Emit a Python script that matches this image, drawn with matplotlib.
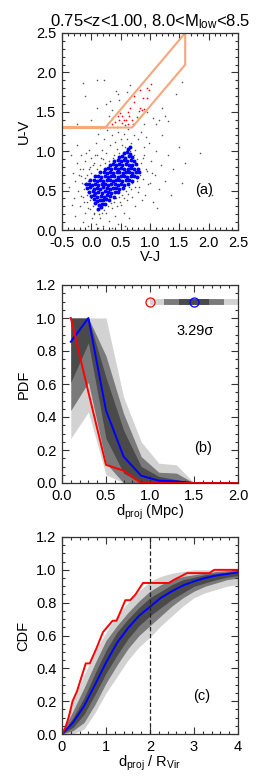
import matplotlib
matplotlib.use("Agg")
import matplotlib.pyplot as plt
from matplotlib.ticker import MultipleLocator, FormatStrFormatter

plt.rcParams['font.family'] = ['Liberation Sans', 'DejaVu Sans']
plt.rcParams['mathtext.fontset'] = 'custom'
plt.rcParams['mathtext.rm'] = 'Liberation Sans'
plt.rcParams['mathtext.it'] = 'Liberation Sans'

# ---------------- Panel (a) data: UVJ diagram ----------------
title_text = "0.75<z<1.00, 8.0<M$_{\\mathregular{low}}$<8.5"

black_pts = [
    (-0.38,0.55),(-0.35,0.95),(-0.33,0.32),(-0.32,0.72),(-0.30,0.40),(-0.28,0.18),(-0.27,0.62),(-0.25,0.85),
    (-0.24,1.08),(-0.22,0.50),(-0.21,0.70),(-0.20,0.30),(-0.20,0.78),(-0.18,0.68),(-0.18,0.43),(-0.17,0.95),
    (-0.16,0.60),(-0.15,0.42),(-0.15,0.10),(-0.14,0.78),(-0.13,0.52),(-0.12,0.58),(-0.12,0.35),(-0.11,0.22),
    (-0.10,0.88),(-0.10,0.66),(-0.09,0.98),(-0.08,0.35),(-0.08,0.45),(-0.07,0.70),(-0.06,0.62),(-0.06,0.28),
    (-0.05,0.48),(-0.05,0.05),(-0.04,1.02),(-0.04,0.78),(-0.03,0.80),(-0.03,0.38),(-0.02,0.27),(-0.01,0.40),
    (0.00,0.92),(0.00,0.72),(0.01,0.15),(0.02,0.30),(0.02,0.82),(0.04,0.22),(0.05,0.85),(0.05,0.20),
    (0.06,0.95),(0.08,0.08),(0.08,1.10),(0.09,0.26),(0.10,0.95),(0.10,0.78),(0.12,1.22),(0.12,0.02),
    (0.13,0.20),(0.15,0.82),(0.15,0.15),(0.17,0.92),(0.18,1.02),(0.18,0.22),(0.20,0.90),(0.20,0.05),
    (0.22,1.15),(0.22,0.26),(0.24,0.85),(0.25,0.98),(0.25,0.22),(0.27,1.27),(0.28,0.30),(0.30,0.88),
    (0.30,0.12),(0.32,1.08),(0.33,0.34),(0.35,1.20),(0.35,0.28),(0.35,0.02),(0.37,0.92),(0.38,0.95),
    (0.39,0.36),(0.40,1.12),(0.40,0.18),(0.42,0.40),(0.43,1.03),(0.44,0.30),(0.45,1.25),(0.45,0.08),
    (0.47,0.42),(0.48,0.98),(0.49,0.36),(0.50,1.15),(0.50,0.32),(0.52,0.45),(0.53,1.08),(0.55,1.22),
    (0.55,0.22),(0.56,0.40),(0.58,1.05),(0.58,0.05),(0.59,0.50),(0.60,1.15),(0.60,0.38),(0.62,0.46),
    (0.63,1.28),(0.64,0.55),(0.65,0.15),(0.66,1.00),(0.67,0.52),(0.68,1.10),(0.70,0.42),(0.70,0.60),
    (0.72,1.20),(0.72,0.95),(0.74,0.55),(0.75,1.02),(0.75,0.30),(0.77,0.62),(0.78,0.90),(0.80,1.15),
    (0.80,0.48),(0.82,0.55),(0.83,0.70),(0.85,0.85),(0.85,1.25),(0.87,0.38),(0.88,0.65),(0.88,0.92),
    (0.90,0.95),(0.90,1.05),(0.92,0.45),(0.93,0.78),(0.94,1.18),(0.95,0.75),(0.97,0.58),(0.98,1.10),
    (1.00,0.60),(1.02,0.88),(1.03,0.72),(1.05,0.35),(1.08,0.70),(1.10,1.00),(1.12,0.28),(1.15,0.52),
    (1.18,0.82),(1.20,1.20),(1.25,0.62),(1.30,0.95),(1.35,0.45),(1.40,0.78),(1.50,1.05),(1.55,0.60),
    (1.60,0.85),(1.85,0.98),(2.05,0.45),
    (-0.25,1.35),(-0.15,1.87),(-0.10,1.70),(0.00,1.40),(0.10,1.55),(0.10,1.90),(0.15,1.30),(0.22,1.90),
    (0.25,1.60),(0.30,1.45),(0.32,1.64),(0.35,1.52),(0.42,1.76),(0.45,1.72),(0.48,1.65),(0.60,1.75),
    (0.66,1.84),(0.90,1.35),(0.95,1.50),(1.05,1.42),(1.10,1.35),(1.15,1.40),(1.25,1.45),(1.30,1.38),
    (1.20,1.55),(1.45,1.72),(1.54,1.88),
]

blue_pts = [
    (0.12,0.27),(0.17,0.29),
    (0.07,0.34),(0.13,0.32),(0.19,0.335),(0.24,0.33),
    (0.04,0.39),(0.09,0.37),(0.14,0.385),(0.20,0.375),(0.25,0.39),(0.30,0.38),
    (0.00,0.43),(0.05,0.44),(0.10,0.42),(0.16,0.435),(0.21,0.425),(0.27,0.44),(0.32,0.43),(0.38,0.42),
    (-0.04,0.48),(0.02,0.49),(0.07,0.47),(0.12,0.485),(0.18,0.475),(0.23,0.49),(0.29,0.48),(0.34,0.47),
    (0.40,0.485),(0.46,0.48),
    (-0.07,0.53),(-0.02,0.54),(0.04,0.52),(0.09,0.535),(0.15,0.525),(0.20,0.54),(0.26,0.53),(0.31,0.52),
    (0.37,0.535),(0.42,0.53),(0.48,0.52),(0.54,0.535),
    (-0.09,0.58),(-0.04,0.59),(0.01,0.57),(0.07,0.585),(0.12,0.575),(0.18,0.59),(0.23,0.58),(0.29,0.57),
    (0.34,0.585),(0.40,0.58),(0.45,0.57),(0.51,0.59),(0.56,0.575),(0.62,0.58),
    (-0.02,0.63),(0.04,0.64),(0.09,0.62),(0.15,0.635),(0.20,0.625),(0.26,0.64),(0.31,0.63),(0.37,0.62),
    (0.42,0.635),(0.48,0.63),(0.53,0.62),(0.59,0.64),(0.64,0.63),(0.70,0.625),
    (0.06,0.68),(0.12,0.69),(0.17,0.67),(0.23,0.685),(0.28,0.675),(0.34,0.69),(0.39,0.68),(0.45,0.67),
    (0.50,0.685),(0.56,0.68),(0.61,0.67),(0.67,0.69),(0.72,0.68),(0.78,0.675),
    (0.15,0.73),(0.21,0.74),(0.26,0.72),(0.32,0.735),(0.37,0.725),(0.43,0.74),(0.48,0.73),(0.54,0.72),
    (0.59,0.735),(0.65,0.73),(0.70,0.72),(0.76,0.74),(0.82,0.73),
    (0.23,0.78),(0.29,0.79),(0.34,0.77),(0.40,0.785),(0.45,0.775),(0.51,0.79),(0.56,0.78),(0.62,0.77),
    (0.67,0.785),(0.73,0.78),(0.79,0.775),
    (0.31,0.83),(0.37,0.84),(0.42,0.82),(0.48,0.835),(0.53,0.825),(0.59,0.84),(0.64,0.83),(0.70,0.82),
    (0.76,0.835),
    (0.39,0.88),(0.45,0.89),(0.50,0.87),(0.56,0.885),(0.61,0.875),(0.67,0.89),(0.73,0.88),
    (0.47,0.93),(0.53,0.94),(0.58,0.92),(0.64,0.935),(0.70,0.925),
    (0.55,0.98),(0.61,0.99),(0.66,0.97),
    (0.62,1.03),(0.66,1.05),
]

red_pts = [
    (1.02,1.85),(0.95,1.80),(0.98,1.78),(0.83,1.78),(0.73,1.70),(0.73,1.63),(0.95,1.68),(0.82,1.51),
    (0.86,1.52),(0.90,1.53),(0.63,1.50),(0.65,1.45),(0.46,1.45),(0.52,1.45),(0.48,1.40),(0.59,1.40),
    (0.69,1.40),(0.77,1.43),(0.40,1.37),(0.57,1.33),(0.62,1.35),(0.71,1.34),(0.44,1.31),(0.52,1.36),
    (0.83,1.55),(0.49,1.48),(0.55,1.39),(0.36,1.34),(0.66,1.55),(0.88,1.68),
]

# selection strip (U-V = 0.88 (V-J) + offset)
box_vj = [-0.5, 0.239, 1.6, 1.6, 0.693, -0.5]
box_uv = [1.3, 1.3, 2.5, 2.098, 1.3, 1.3]

# ---------------- Panel (b) data: PDF ----------------
pdf_x = [0.1, 0.3, 0.5, 0.7, 0.9, 1.1, 1.3, 1.5, 1.7, 1.9, 2.1]
pdf_light_hi = [1.00, 1.00, 1.00, 0.52, 0.25, 0.12, 0.11, 0.0, 0.0, 0.0, 0.0]
pdf_light_lo = [0.27, 0.43, 0.05, 0.0, 0.0, 0.0, 0.0, 0.0, 0.0, 0.0, 0.0]
pdf_med_hi = [1.00, 1.00, 0.77, 0.42, 0.16, 0.065, 0.06, 0.0, 0.0, 0.0, 0.0]
pdf_med_lo = [0.44, 0.61, 0.12, 0.0, 0.0, 0.0, 0.0, 0.0, 0.0, 0.0, 0.0]
pdf_dark_hi = [1.00, 1.00, 0.64, 0.32, 0.10, 0.04, 0.02, 0.0, 0.0, 0.0, 0.0]
pdf_dark_lo = [0.61, 0.85, 0.27, 0.06, 0.0, 0.0, 0.0, 0.0, 0.0, 0.0, 0.0]
pdf_blue = [0.856, 1.00, 0.44, 0.16, 0.044, 0.014, 0.01, 0.0, 0.0, 0.0, 0.0]
pdf_red = [1.00, 0.55, 0.11, 0.075, 0.0, 0.0, 0.0, 0.0, 0.0, 0.0, 0.0]

# mean-distance bar at top of panel (b)
bar_y = 1.1
bar_light = (1.0, 2.0)
bar_med = (1.16, 1.84)
bar_dark = (1.33, 1.67)
obs_mean = 1.0
sim_mean = 1.5
signif_text = "3.29\u03c3"

# ---------------- Panel (c) data: CDF ----------------
cdf_x = [0, 0.25, 0.5, 0.75, 1.0, 1.25, 1.5, 1.75, 2.0, 2.25, 2.5, 2.75, 3.0, 3.25, 3.5, 3.75, 4.0]
cdf_blue = [0, 0.07, 0.17, 0.30, 0.435, 0.555, 0.645, 0.72, 0.775, 0.83, 0.87, 0.905, 0.93, 0.95, 0.965, 0.975, 0.985]
cdf_light_hi = [0.02, 0.20, 0.36, 0.50, 0.62, 0.72, 0.80, 0.87, 0.93, 0.96, 0.98, 0.99, 1.0, 1.0, 1.0, 1.0, 1.0]
cdf_light_lo = [0, 0.0, 0.03, 0.13, 0.25, 0.35, 0.45, 0.53, 0.59, 0.66, 0.72, 0.78, 0.83, 0.86, 0.88, 0.90, 0.91]
cdf_med_hi = [0.01, 0.14, 0.28, 0.43, 0.57, 0.66, 0.74, 0.81, 0.87, 0.91, 0.94, 0.96, 0.97, 0.98, 0.99, 0.995, 1.0]
cdf_med_lo = [0, 0.02, 0.07, 0.18, 0.31, 0.42, 0.52, 0.60, 0.66, 0.72, 0.78, 0.83, 0.87, 0.90, 0.92, 0.94, 0.95]
cdf_dark_hi = [0, 0.10, 0.22, 0.37, 0.51, 0.62, 0.70, 0.77, 0.83, 0.87, 0.91, 0.94, 0.955, 0.97, 0.98, 0.985, 0.99]
cdf_dark_lo = [0, 0.04, 0.12, 0.24, 0.37, 0.48, 0.58, 0.66, 0.72, 0.77, 0.82, 0.86, 0.90, 0.92, 0.94, 0.955, 0.965]

cdf_red_x = [0.0, 0.08, 0.15, 0.24, 0.34, 0.54, 0.63, 0.78, 0.93, 1.15, 1.24, 1.44, 1.55, 1.67, 1.84,
             2.43, 2.55, 2.70, 2.84, 3.35, 3.46, 4.0]
cdf_red_y = [0.0, 0.04, 0.10, 0.20, 0.26, 0.43, 0.43, 0.52, 0.62, 0.69, 0.69, 0.815, 0.815, 0.85, 0.92,
             0.92, 0.94, 0.96, 0.98, 0.98, 1.0, 1.0]
rvir_line = 2.0

# ---------------- styling ----------------
C_LIGHT = '#d2d2d2'
C_MED = '#7a7a7a'
C_DARK = '#4a4a4a'
C_BOX = '#f8a67c'
FS = 10.5

fig = plt.figure(figsize=(2.6, 7.8), dpi=100)
W, H = 260.0, 780.0
ax1 = fig.add_axes([62/W, 1-230/H, 176/W, 197/H])
ax2 = fig.add_axes([62/W, 1-483/H, 176/W, 198/H])
ax3 = fig.add_axes([62/W, 1-734/H, 176/W, 197/H])


def style(ax):
    ax.tick_params(which='both', direction='in', top=True, right=True, labelsize=FS, pad=4,
                   color='#333333', width=0.8)
    ax.tick_params(which='major', length=5)
    ax.tick_params(which='minor', length=2.5)
    for s in ax.spines.values():
        s.set_linewidth(0.9)
        s.set_color('#333333')


# Panel (a)
ax1.scatter([p[0] for p in black_pts], [p[1] for p in black_pts], s=1.3, c='#555555', linewidths=0)
ax1.scatter([p[0] for p in blue_pts], [p[1] for p in blue_pts], s=8, c='#0000ff', linewidths=0)
ax1.scatter([p[0] for p in red_pts], [p[1] for p in red_pts], s=1.5, c='#ff0000', linewidths=0)
ax1.plot(box_vj, box_uv, color=C_BOX, lw=1.5, clip_on=True)
ax1.set_xlim(-0.5, 2.5)
ax1.set_ylim(0.0, 2.5)
ax1.xaxis.set_major_locator(MultipleLocator(0.5))
ax1.xaxis.set_minor_locator(MultipleLocator(0.1))
ax1.yaxis.set_major_locator(MultipleLocator(0.5))
ax1.yaxis.set_minor_locator(MultipleLocator(0.1))
ax1.xaxis.set_major_formatter(FormatStrFormatter('%.1f'))
ax1.yaxis.set_major_formatter(FormatStrFormatter('%.1f'))
ax1.set_xlabel('V-J', fontsize=FS, labelpad=0)
ax1.set_ylabel('U-V', fontsize=FS, labelpad=4)
ax1.set_title(title_text, fontsize=12, pad=5)
ax1.text(1.92, 0.51, '(a)', fontsize=FS, ha='center', va='center')
style(ax1)

# Panel (b)
ax2.fill_between(pdf_x, pdf_light_lo, pdf_light_hi, color=C_LIGHT, lw=0)
ax2.fill_between(pdf_x, pdf_med_lo, pdf_med_hi, color=C_MED, lw=0)
ax2.fill_between(pdf_x, pdf_dark_lo, pdf_dark_hi, color=C_DARK, lw=0)
ax2.plot(pdf_x, pdf_blue, color='#0000ff', lw=1.4)
ax2.plot(pdf_x, pdf_red, color='#ff0000', lw=1.4)
ax2.plot(bar_light, [bar_y, bar_y], color=C_LIGHT, lw=4.2, solid_capstyle='butt')
ax2.plot(bar_med, [bar_y, bar_y], color=C_MED, lw=4.2, solid_capstyle='butt')
ax2.plot(bar_dark, [bar_y, bar_y], color=C_DARK, lw=4.2, solid_capstyle='butt')
ax2.plot([obs_mean], [bar_y], 'o', mfc='none', mec='#ff0000', ms=6.5, mew=0.9)
ax2.plot([sim_mean], [bar_y], 'o', mfc='none', mec='#0000ff', ms=6.5, mew=0.9)
ax2.text(1.51, 0.92, signif_text, fontsize=FS, ha='center', va='center')
ax2.text(1.6, 0.21, '(b)', fontsize=FS, ha='center', va='center')
ax2.set_xlim(0, 2.0)
ax2.set_ylim(0, 1.2)
ax2.xaxis.set_major_locator(MultipleLocator(0.5))
ax2.xaxis.set_minor_locator(MultipleLocator(0.1))
ax2.yaxis.set_major_locator(MultipleLocator(0.2))
ax2.yaxis.set_minor_locator(MultipleLocator(0.05))
ax2.xaxis.set_major_formatter(FormatStrFormatter('%.1f'))
ax2.yaxis.set_major_formatter(FormatStrFormatter('%.1f'))
ax2.set_xlabel('d$_{\\mathregular{proj}}$ (Mpc)', fontsize=FS, labelpad=0)
ax2.set_ylabel('PDF', fontsize=FS, labelpad=4)
style(ax2)

# Panel (c)
ax3.fill_between(cdf_x, cdf_light_lo, cdf_light_hi, color=C_LIGHT, lw=0)
ax3.fill_between(cdf_x, cdf_med_lo, cdf_med_hi, color=C_MED, lw=0)
ax3.fill_between(cdf_x, cdf_dark_lo, cdf_dark_hi, color=C_DARK, lw=0)
ax3.plot(cdf_x, cdf_blue, color='#0000ff', lw=1.4)
ax3.plot(cdf_red_x, cdf_red_y, color='#ff0000', lw=1.4)
ax3.axvline(rvir_line, color='#222222', lw=0.9, ls=(0, (3.5, 2)))
ax3.text(3.17, 0.23, '(c)', fontsize=FS, ha='center', va='center')
ax3.set_xlim(0, 4)
ax3.set_ylim(0, 1.2)
ax3.xaxis.set_major_locator(MultipleLocator(1))
ax3.xaxis.set_minor_locator(MultipleLocator(0.2))
ax3.yaxis.set_major_locator(MultipleLocator(0.2))
ax3.yaxis.set_minor_locator(MultipleLocator(0.05))
ax3.xaxis.set_major_formatter(FormatStrFormatter('%d'))
ax3.yaxis.set_major_formatter(FormatStrFormatter('%.1f'))
ax3.set_xlabel('d$_{\\mathregular{proj}}$ / R$_{\\mathregular{Vir}}$', fontsize=FS, labelpad=0)
ax3.set_ylabel('CDF', fontsize=FS, labelpad=4)
style(ax3)

fig.savefig('out.png', dpi=100)
